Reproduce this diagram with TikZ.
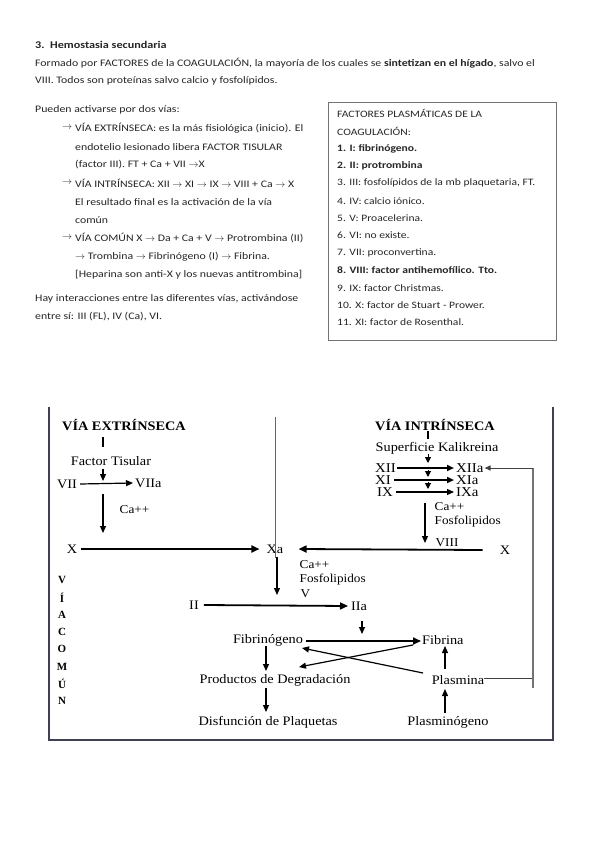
\documentclass[tikz,border=0pt]{standalone}
\usepackage{fontspec}
\usepackage{graphicx}
\setmainfont{Liberation Serif}
\newfontfamily\hand[FakeStretch=1.18]{Carlito}
\usetikzlibrary{arrows.meta}
\newcommand\ws[1]{\scalebox{1.1}[1]{#1}}
\newcommand\ra{$\rightarrow$}
\begin{document}
\begin{tikzpicture}[x=1pt,y=-1pt,
  ht/.style={font=\hand\fontsize{10}{12}\selectfont, text=black!85, inner sep=0pt, anchor=west},
  bt/.style={font=\hand\fontsize{9.8}{12}\selectfont, text=black!85, inner sep=0pt, anchor=west},
  btb/.style={bt, font=\hand\bfseries\fontsize{9.8}{12}\selectfont},
  dg/.style={font=\fontsize{13}{14}\selectfont, inner sep=1pt},
  dgb/.style={font=\fontsize{13}{14}\selectfont\bfseries, inner sep=1pt},
  dgs/.style={font=\fontsize{12}{13}\selectfont, inner sep=0.5pt},
  dgx/.style={font=\fontsize{13.5}{14}\selectfont, inner sep=0pt},
  vl/.style={font=\fontsize{11}{12}\selectfont\bfseries, inner sep=0pt},
  bigtip/.style={line width=1.8pt, -{Triangle[length=8pt,width=7pt]}},
  tip/.style={line width=1.2pt, -{Triangle[length=7pt,width=6pt]}},
  smalltip/.style={line width=1pt, -{Triangle[length=6pt,width=6pt]}},
  thinline/.style={line width=0.8pt, black!60}
]
\useasboundingbox (0,0) rectangle (599,848);
\fill[white] (0,0) rectangle (599,848);

% ---------- heading text ----------
\node[ht, font=\hand\bfseries\fontsize{10.3}{12}\selectfont] (h1) at (35,45) {3.\ \ Hemostasia secundaria};
\node[ht] (h2) at (35,63) {Formado por FACTORES de la COAGULACIÓN, la mayoría de los cuales se \textbf{sintetizan en el hígado}, salvo el};
\node[ht] (h3) at (35,81) {VIII. Todos son proteínas salvo calcio y fosfolípidos.};

% ---------- left column ----------
\node[ht] (l0) at (35,110) {Pueden activarse por dos vías:};
\node[ht] (a1) at (62,128) {\ra};
\node[ht] (l1) at (75,128) {VÍA EXTRÍNSECA: es la más fisiológica (inicio). El};
\node[ht] (l2) at (75,147) {endotelio lesionado libera FACTOR TISULAR};
\node[ht] (l3) at (75,165) {(factor III). FT + Ca + VII \ra X};
\node[ht] (a2) at (62,183) {\ra};
\node[ht] (l4) at (75,183) {VÍA INTRÍNSECA: XII \ra{} XI \ra{} IX \ra{} VIII + Ca \ra{} X};
\node[ht] (l5) at (75,202) {El resultado final es la activación de la vía};
\node[ht] (l6) at (75,220) {común};
\node[ht] (a3) at (62,238) {\ra};
\node[ht] (l7) at (75,238) {VÍA COMÚN X \ra{} Da + Ca + V \ra{} Protrombina (II)};
\node[ht] (l8) at (75,257) {\ra{} Trombina \ra{} Fibrinógeno (I) \ra{} Fibrina.};
\node[ht] (l9) at (75,275) {[Heparina son anti-X y los nuevas antitrombina]};
\node[ht] (l10) at (35,299) {Hay interacciones entre las diferentes vías, activándose};
\node[ht] (l11) at (35,317) {entre sí: III (FL), IV (Ca), VI.};

% ---------- factor box ----------
\draw[line width=0.9pt, black!55] (328,102) rectangle (556,340);
\node[bt] (b0) at (337,113) {FACTORES PLASMÁTICAS DE LA};
\node[bt] (b1) at (337,131) {COAGULACIÓN:};
\node[btb] (b2) at (337,148.5) {1. I: fibrinógeno.};
\node[btb] (b3) at (337,165.9) {2. II: protrombina};
\node[bt] (b4) at (337,183.3) {3. III: fosfolípidos de la mb plaquetaria, FT.};
\node[bt] (b5) at (337,200.7) {4. IV: calcio iónico.};
\node[bt] (b6) at (337,218.1) {5. V: Proacelerina.};
\node[bt] (b7) at (337,235.5) {6. VI: no existe.};
\node[bt] (b8) at (337,252.9) {7. VII: proconvertina.};
\node[btb] (b9) at (337,270.3) {8. VIII: factor antihemofílico. Tto.};
\node[bt] (b10) at (337,287.7) {9. IX: factor Christmas.};
\node[bt] (b11) at (337,305.1) {10. X: factor de Stuart - Prower.};
\node[bt] (b12) at (337,322.5) {11. XI: factor de Rosenthal.};

% ---------- diagram frame ----------
\draw[line width=1.6pt, black!85!blue!50!gray] (49,407) -- (49,740) -- (553,740) -- (553,407);

% ---------- extrinsic pathway ----------
\node[dgb, anchor=west] (extitle) at (61,425) {\ws{VÍA EXTRÍNSECA}};
\coordinate (et1) at (103,437);
\coordinate (et2) at (103,447);
\draw[line width=1.2pt] (et1) -- (et2);
\node[dg] (ft) at (111,461) {\ws{Factor Tisular}};
\coordinate (fta) at (103,469);
\coordinate (ftb) at (103,481);
\draw[tip] (fta) -- (ftb);
\node[dg] (vii) at (67,484) {\ws{VII}};
\node[dg, anchor=west] (viia) at (134,483) {\ws{VIIa}};
\draw[tip] ([xshift=2]vii.east) -- ([xshift=-1]viia.west);
\coordinate (ca1a) at (103,494);
\coordinate (ca1b) at (103,533);
\draw[tip] (ca1a) -- (ca1b);
\node[dgs, anchor=west] (ca1) at (119,510) {\ws{Ca++}};

\node[dg] (xl) at (72,549) {\ws{X}};
\node[dg] (xa) at (275,549) {\ws{Xa}};
\draw[bigtip] ([xshift=3]xl.east) -- ([xshift=-6]xa.west);
\coordinate (vtop) at (275,417);
\draw[thinline] (vtop) -- ([yshift=-15]xa.north);

% ---------- intrinsic pathway ----------
\node[dgb] (intitle) at (435,425) {\ws{VÍA INTRÍNSECA}};
\coordinate (it1) at (428,431);
\coordinate (it2) at (428,439);
\draw[line width=1.1pt] (it1) -- (it2);
\node[dg] (sk) at (437,448) {\ws{Superficie Kalikreina}};
\draw[smalltip] (428,454) -- (428,463);
\draw[smalltip] (428,470) -- (428,477);
\draw[smalltip] (428,482) -- (428,489);
\node[dgx, anchor=west] (xii) at (375,468) {\ws{XII}};
\node[dgx, anchor=west] (xi) at (375,480) {\ws{XI}};
\node[dgx, anchor=west] (ix) at (377,492) {\ws{IX}};
\node[dgx, anchor=west] (xiia) at (456,468) {\ws{XIIa}};
\node[dgx, anchor=west] (xia) at (456,480) {\ws{XIa}};
\node[dgx, anchor=west] (ixa) at (456,492) {\ws{IXa}};
\draw[line width=1.8pt, -{Triangle[length=7pt,width=6pt]}] ([xshift=1]xii.east) -- ([xshift=-2]xiia.west);
\draw[line width=1.8pt, -{Triangle[length=7pt,width=6pt]}] ([xshift=3]xi.east) -- ([xshift=-2]xia.west);
\draw[line width=1.2pt, -{Triangle[length=7pt,width=6pt]}] ([xshift=3]ix.east) -- ([xshift=-2]ixa.west);
\coordinate (va) at (425,503);
\coordinate (vb) at (425,543);
\draw[tip] (va) -- (vb);
\node[dgs, anchor=west] (ca2) at (434,507) {\ws{Ca++}};
\node[dgs, anchor=west] (fos2) at (434,522) {\ws{Fosfolipidos}};
\node[dgs, anchor=west] (viii) at (435,543) {\ws{VIII}};
\node[dg] (xr) at (505,550) {\ws{X}};
\draw[bigtip] ([xshift=-16]xr.west) -- ([xshift=14]xa.east);

% ---------- common pathway ----------
\node[dgs, anchor=west] (ca3) at (299,565) {\ws{Ca++}};
\node[dgs, anchor=west] (fos3) at (299,580) {\ws{Fosfolipidos}};
\node[dgs, anchor=west] (v3) at (300,594) {\ws{V}};
\draw[tip] ([xshift=2,yshift=-2]xa.south) -- (277,595);
\node[dg] (ii) at (194,605) {\ws{II}};
\node[dg, anchor=west] (iia) at (350,606) {\ws{IIa}};
\draw[bigtip] ([xshift=4]ii.east) -- ([xshift=-2]iia.west);
\draw[tip] (362,621) -- (362,634);
\node[dg] (fbg) at (268,640) {\ws{Fibrinógeno}};
\node[dg, anchor=west] (fbn) at (421,640) {\ws{Fibrina}};
\draw[bigtip] ([xshift=2,yshift=-1]fbg.east) -- ([yshift=-1]fbn.west);
\node[dg] (pdd) at (275,680) {\ws{Productos de Degradación}};
\node[dg] (dis) at (268,722) {\ws{Disfunción de Plaquetas}};
\node[dg] (pla) at (458,680) {\ws{Plasmina}};
\node[dg] (plg) at (448,722) {\ws{Plasminógeno}};
\draw[tip] (266,646) -- (266,671);
\draw[tip] (266,688) -- (266,712);
\draw[tip] (445,713) -- (445,689);
\draw[tip] (445,669) -- (445,646);
\draw[tip] (423,673) -- (302,648);
\draw[tip] (413,645) -- (299,667);
% feedback Plasmina -> XIIa
\coordinate (fb1) at (533,678);
\coordinate (fb2) at (533,468);
\coordinate (fb3) at (533,688);
\draw[line width=1pt, black!75] ([xshift=-1]pla.east |- fb1) -- (fb1);
\draw[line width=1.2pt, black!55] (fb3) -- (fb2);
\draw[line width=1pt, black!75, -{Triangle[length=6pt,width=5pt]}] (fb2) -- ([xshift=1]xiia.east);

% ---------- VIA COMUN vertical ----------
\foreach \l [count=\i from 0] in {V,Í,A,C,O,M,Ú,N}
  \node[vl] (vc\i) at (62,580+17.3*\i) {\l};
\end{tikzpicture}
\end{document}
